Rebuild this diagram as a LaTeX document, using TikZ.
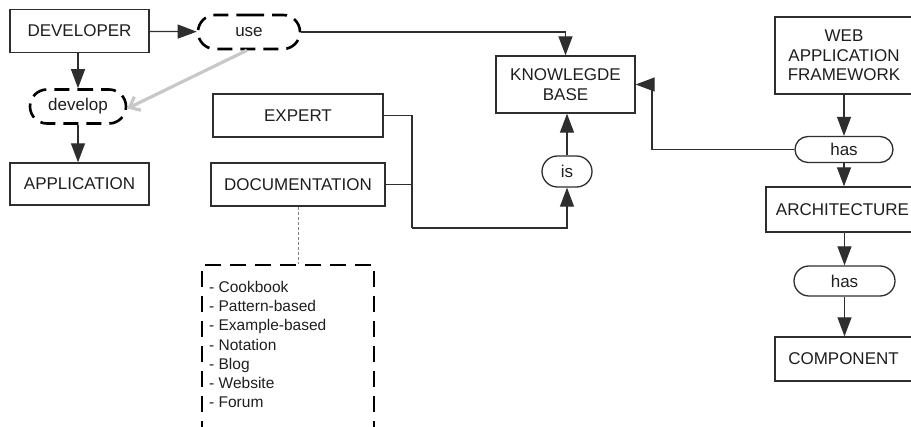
\documentclass[tikz,border=0pt]{standalone}
\usepackage{fontspec}
\setmainfont{Liberation Sans}
\usetikzlibrary{arrows.meta,shapes.misc}
\definecolor{ink}{HTML}{1E1E1E}
\definecolor{edge}{HTML}{2E2E2E}
\definecolor{lightgray}{HTML}{C8C8C8}
\begin{document}
\begin{tikzpicture}[x=1pt,y=-1pt,
  every node/.style={font=\fontsize{17}{19.5}\selectfont, text=ink},
  box/.style={draw=edge, line width=1.3pt, rectangle, inner sep=0pt, align=center},
  pill/.style={draw=edge, line width=1.3pt, rounded rectangle, inner sep=0pt},
  dashpill/.style={draw=black, line width=2.6pt, rounded rectangle, inner sep=0pt,
    dash pattern=on 15pt off 8pt},
  link/.style={draw=edge, line width=1.2pt},
  arr/.style={link, -{Triangle[length=19pt,width=14pt]}},
  grayarr/.style={draw=lightgray, line width=3.2pt, -{Straight Barb[length=9pt,width=15pt,line width=3.2pt]}},
  framebox/.style={draw=black, line width=2pt, rectangle, dash pattern=on 16pt off 9pt},
  lead/.style={draw=gray, line width=1pt, dash pattern=on 3pt off 2pt}]
\useasboundingbox (0,0) rectangle (911,427);
\clip (0,0) rectangle (911,427);

% left column
\node[box, minimum width=139pt, minimum height=43pt] (dev) at (79.5,31) {DEVELOPER};
\node[box, minimum width=139pt, minimum height=42pt] (app) at (79.5,184) {APPLICATION};
\node[dashpill, minimum width=96pt, minimum height=34pt] (develop) at (78,106.5) {develop};
\node[dashpill, minimum width=102pt, minimum height=34pt] (use) at (249,32) {use};

% middle
\node[box, minimum width=170pt, minimum height=43pt] (expert) at (298,115.5) {EXPERT};
\node[box, minimum width=174pt, minimum height=43pt] (doc) at (298,184.5) {DOCUMENTATION};
\node[box, minimum width=139pt, minimum height=57pt] (kb) at (565.5,84.5) {KNOWLEGDE\\BASE};
\node[pill, minimum width=50pt, minimum height=31pt] (is) at (567,171.5) {is};

% documentation sources
\node[framebox, minimum width=172pt, minimum height=200pt, anchor=north] (src) at (288,264) {};
\node[anchor=north west, align=left, inner sep=0pt,
  font=\fontsize{15.5}{19.2}\selectfont] (srclist) at (209,281)
  {- Cookbook\\- Pattern-based\\- Example-based\\- Notation\\- Blog\\- Website\\- Forum};

% right column
\node[box, minimum width=138pt, minimum height=77pt] (waf) at (844,55.5) {WEB\\APPLICATION\\FRAMEWORK};
\node[pill, minimum width=98pt, minimum height=26pt] (has1) at (844,149.5) {has};
\node[box, minimum width=153pt, minimum height=45pt] (arch) at (842.5,209.5) {ARCHITECTURE};
\node[pill, minimum width=101pt, minimum height=30pt] (has2) at (844.5,281) {has};
\node[box, minimum width=137pt, minimum height=44pt] (comp) at (843.5,359) {COMPONENT};

% connectors
\draw[arr] (dev) -- (use);
\draw[arr] (dev.south -| develop.north) -- (develop.north);
\draw[arr] (develop.south) -- (develop.south |- app.north);
\draw[grayarr] ([xshift=-2pt]use.south) -- ([yshift=-2pt]develop.east);
\draw[arr] (use.east) -| (kb.north);

\coordinate (hk) at (652,84.5);
\draw[arr] (has1.west) -| (hk) -- (kb.east);

\coordinate (join) at (412,228);
\draw[link] (expert.east) -| (join);
\draw[link] (doc.east) -- (doc.east -| join);
\draw[arr] (join) -| (is.south);
\draw[arr] (is.north) -- (is.north |- kb.south);

\draw[lead] (doc.south) -- (doc.south |- src.north);

\draw[arr] (has1.north |- waf.south) -- (has1.north);
\draw[arr] (has1.south) -- (has1.south |- arch.north);
\draw[arr] (has2.north |- arch.south) -- (has2.north);
\draw[arr] (has2.south) -- (has2.south |- comp.north);
\end{tikzpicture}
\end{document}
